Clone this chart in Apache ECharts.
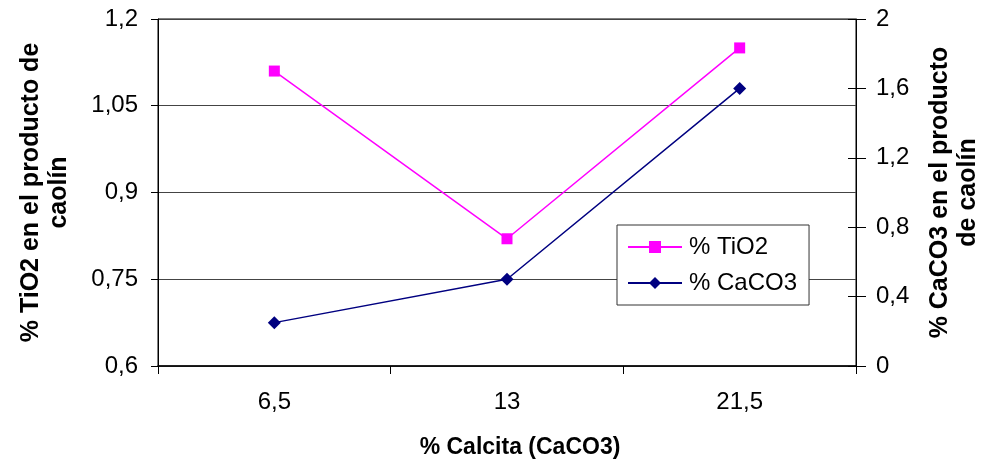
<!DOCTYPE html>
<html><head><meta charset="utf-8">
<script src="https://cdn.jsdelivr.net/npm/echarts@6/dist/echarts.min.js"></script>
<style>html,body{margin:0;padding:0;background:#fff}#c{width:990px;height:465px}</style>
</head><body><div id="c"></div>
<script>
const categories = ['6,5', '13', '21,5'];
const tio2 = [1.11, 0.82, 1.15];
const caco3 = [0.25, 0.5, 1.6];
const leftTicks = {min: 0.6, max: 1.2, interval: 0.15};
const rightTicks = {min: 0, max: 2, interval: 0.4};

const fmt = v => String(Math.round(v * 100) / 100).replace('.', ',');
const font = '"Liberation Sans", Arial, sans-serif';
const chart = echarts.init(document.getElementById('c'));
chart.setOption({
  animation: false,
  backgroundColor: '#fff',
  grid: {left: 158, right: 132, top: 19, bottom: 99, show: true, borderColor: '#000', borderWidth: 1},
  legend: {
    left: 617, top: 225, orient: 'vertical',
    padding: [10, 12, 10, 10], itemGap: 12, itemWidth: 54, itemHeight: 15,
    borderColor: '#333', borderWidth: 1, backgroundColor: '#fff',
    textStyle: {fontFamily: font, fontSize: 24, color: '#000', padding: [0, 0, 0, 2]},
    data: ['% TiO2', '% CaCO3']
  },
  xAxis: {
    type: 'category', data: categories, boundaryGap: true,
    name: '% Calcita (CaCO3)', nameLocation: 'middle', nameGap: 70,
    nameTextStyle: {fontFamily: font, fontWeight: 'bold', fontSize: 23, color: '#000', padding: [0, 0, 0, 26]},
    axisLine: {lineStyle: {color: '#000', width: 1.5}},
    axisTick: {show: true, length: 8, lineStyle: {color: '#000'}},
    axisLabel: {fontFamily: font, fontSize: 24, color: '#000', margin: 24}
  },
  yAxis: [{
    type: 'value', position: 'left', min: leftTicks.min, max: leftTicks.max, interval: leftTicks.interval,
    name: '% TiO2 en el producto de\ncaolín', nameLocation: 'middle', nameRotate: 90, nameGap: 85,
    nameTextStyle: {fontFamily: font, fontWeight: 'bold', fontSize: 25, color: '#000', lineHeight: 28},
    axisLine: {show: true, lineStyle: {color: '#000'}},
    axisTick: {show: true, length: 7, lineStyle: {color: '#000'}},
    axisLabel: {fontFamily: font, fontSize: 24, color: '#000', margin: 20, formatter: fmt},
    splitLine: {show: true, lineStyle: {color: '#444', width: 1}}
  }, {
    type: 'value', position: 'right', min: rightTicks.min, max: rightTicks.max, interval: rightTicks.interval,
    name: '% CaCO3 en el producto\nde caolín', nameLocation: 'middle', nameRotate: 90, nameGap: 70,
    nameTextStyle: {fontFamily: font, fontWeight: 'bold', fontSize: 25, color: '#000', lineHeight: 28},
    axisLine: {show: true, lineStyle: {color: '#000'}},
    axisTick: {show: true, length: 10, lineStyle: {color: '#000'}},
    axisLabel: {fontFamily: font, fontSize: 24, color: '#000', margin: 20, formatter: fmt},
    splitLine: {show: false}
  }, {
    type: 'value', position: 'right', min: rightTicks.min, max: rightTicks.max, interval: rightTicks.interval,
    axisLine: {show: false},
    axisTick: {show: true, inside: true, length: 8, lineStyle: {color: '#000'}},
    axisLabel: {show: false}, splitLine: {show: false}
  }],
  series: [{
    name: '% TiO2', type: 'line', yAxisIndex: 0, data: tio2,
    symbol: 'rect', symbolSize: 11,
    lineStyle: {color: '#FF00FF', width: 1.5}, itemStyle: {color: '#FF00FF'}
  }, {
    name: '% CaCO3', type: 'line', yAxisIndex: 1, data: caco3,
    symbol: 'diamond', symbolSize: 13,
    lineStyle: {color: '#000080', width: 1.5}, itemStyle: {color: '#000080'}
  }]
});
</script></body></html>
